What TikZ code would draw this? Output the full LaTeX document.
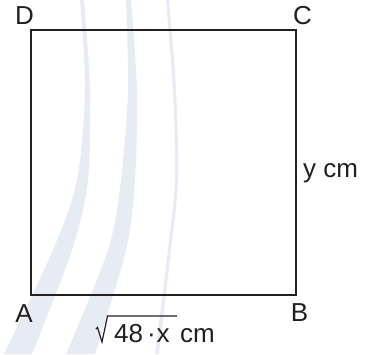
\documentclass[tikz,border=0pt]{standalone}
\usepackage{fontspec}
\setmainfont{Liberation Sans}
\definecolor{wm}{HTML}{E6EBF4}
\definecolor{ink}{HTML}{231F20}
\tikzset{
  lbl/.style={font=\fontsize{26}{30}\selectfont, text=ink, inner sep=0pt},
  edge/.style={draw=ink, line width=2pt},
}
\begin{document}
\begin{tikzpicture}[x=1pt,y=1pt]
\useasboundingbox (0,0) rectangle (369,354);
% watermark bands
\fill[wm] plot[smooth] coordinates {(80,354) (85,264) (77,174) (53,104) (4,0)}
  -- plot[smooth] coordinates {(32,0) (72,104) (88,174) (90,264) (84,354)} -- cycle;
\fill[wm] plot[smooth] coordinates {(126,354) (128,264) (121,174) (108,104) (66,0)}
  -- plot[smooth] coordinates {(95,0) (126,104) (135,174) (137,264) (131,354)} -- cycle;
\fill[wm] plot[smooth] coordinates {(166,354) (173,264) (175,174) (168,104) (155,0)}
  -- plot[smooth] coordinates {(159,0) (171,104) (178,174) (176,264) (169,354)} -- cycle;
% square
\coordinate (a) at (31,59);
\coordinate (b) at (296,59);
\coordinate (c) at (296,324);
\coordinate (d) at (31,324);
\draw[edge, line join=miter] (a) -- (b) -- (c) -- (d) -- cycle;
% labels
\node[lbl, anchor=base] (lD) at (24.5,329) {D};
\node[lbl, anchor=base] (lC) at (302.5,329) {C};
\node[lbl, anchor=base] (lA) at (24,32) {A};
\node[lbl, anchor=base] (lB) at (299.5,33) {B};
\node[lbl, anchor=base west] (ly) at (303,177) {y cm};
% radical expression
\node[lbl, anchor=base west] (n48) at (114,12) {48};
\node[lbl, anchor=base] (ndot) at (151.5,12) {·};
\node[lbl, anchor=base west] (nx) at (156.5,12) {x};
\node[lbl, anchor=base west] (ncm) at (180,12) {cm};
\coordinate (r1) at (96,25);
\coordinate (r2) at (97.5,26.5);
\coordinate (r3) at (102,12);
\coordinate (r4) at (107.5,38);
\coordinate (r5) at (177,38);
\draw[draw=ink, line width=1.2pt, line join=miter] (r1) -- (r2) -- (r3) -- (r4) -- (r5);
\end{tikzpicture}
\end{document}
